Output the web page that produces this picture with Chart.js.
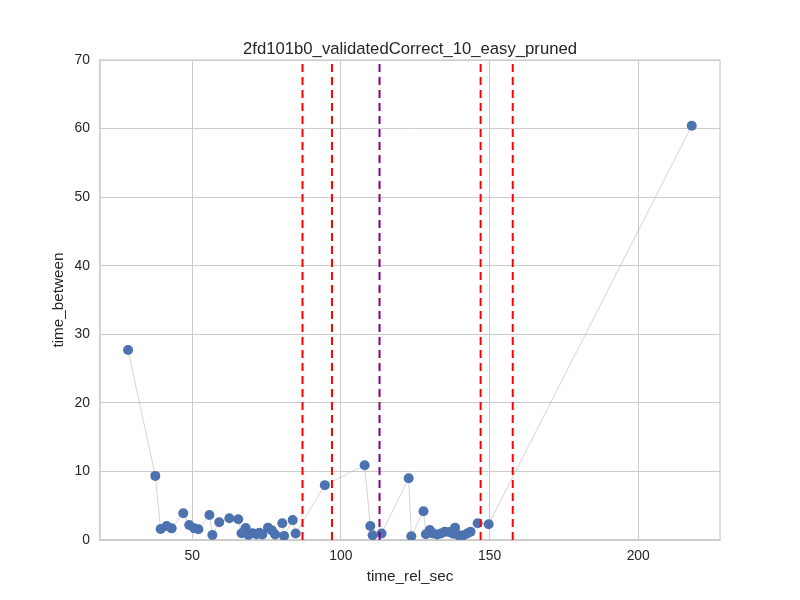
<!DOCTYPE html>
<html>
<head>
<meta charset="utf-8">
<script src="https://cdn.jsdelivr.net/npm/chart.js@4"></script>
<style>
html,body{margin:0;padding:0;background:#fff;}
#wrap{width:800px;height:600px;}
</style>
</head>
<body>
<div id="wrap"><canvas id="c" width="800" height="600"></canvas></div>
<script>
const chartTitle = "2fd101b0_validatedCorrect_10_easy_pruned";
const xLabel = "time_rel_sec";
const yLabel = "time_between";

const timeRelSec = [28.45, 37.6, 39.4, 41.4, 43.1, 47.0, 49.0, 50.7, 52.1, 55.8, 56.8, 59.1, 62.5, 65.5,
  66.6, 68.0, 68.9, 70.3, 71.6, 72.6, 73.6, 75.5, 76.8, 77.9, 80.3, 80.9, 83.8, 84.8,
  94.6, 108.0, 109.9, 110.7, 113.7, 122.8, 123.7, 127.8, 128.6, 129.9, 131.0, 132.4,
  133.7, 134.9, 136.4, 137.8, 138.4, 139.6, 141.2, 142.5, 143.6, 146.0, 149.7, 218.0];
const timeBetween = [27.7, 9.35, 1.6, 2.05, 1.7, 3.9, 2.2, 1.7, 1.56, 3.65, 0.73, 2.6, 3.17, 3.02,
  0.98, 1.75, 0.75, 1.0, 0.85, 1.05, 0.8, 1.8, 1.4, 0.8, 2.45, 0.6, 2.9, 0.95,
  8.0, 10.9, 2.05, 0.7, 0.95, 9.0, 0.55, 4.2, 0.85, 1.45, 0.95, 0.8,
  0.95, 1.2, 1.15, 0.9, 1.8, 0.7, 0.7, 0.95, 1.2, 2.45, 2.3, 60.4];
const redLines = [87.1, 97.0, 147.0, 157.8];
const purpleLines = [113.0];
const xTicks = [50, 100, 150, 200];
const xMin = 19.0, xMax = 227.5;
const yMin = 0, yMax = 70, yStep = 10;

const points = timeRelSec.map((x, i) => ({x: x, y: timeBetween[i]}));

function vline(v, color) {
  return {
    data: [{x: v, y: yMin}, {x: v, y: yMax}],
    showLine: true,
    borderColor: color,
    borderWidth: 2,
    borderDash: [8, 5],
    pointRadius: 0,
    pointHoverRadius: 0,
    order: 0
  };
}

const datasets = [];
redLines.forEach(v => datasets.push(vline(v, '#ff0000')));
purpleLines.forEach(v => datasets.push(vline(v, '#800080')));
datasets.push({
  data: points,
  showLine: true,
  borderColor: 'rgba(140,140,140,0.75)',
  borderWidth: 0.5,
  pointRadius: 5,
  pointHoverRadius: 5,
  pointBackgroundColor: '#4C72B0',
  pointBorderColor: '#4C72B0',
  pointBorderWidth: 0,
  order: 1
});

const framePlugin = {
  id: 'frame',
  beforeDatasetsDraw(chart) {
    const a = chart.chartArea, ctx = chart.ctx;
    ctx.save();
    ctx.strokeStyle = '#cccccc';
    ctx.lineWidth = 1.25;
    ctx.strokeRect(a.left, a.top, a.right - a.left, a.bottom - a.top);
    ctx.restore();
  },
  afterDraw(chart) {
    const a = chart.chartArea, ctx = chart.ctx;
    ctx.save();
    ctx.fillStyle = '#262626';
    ctx.font = '16.7px "Liberation Sans", Arial, sans-serif';
    ctx.textAlign = 'center';
    ctx.textBaseline = 'alphabetic';
    ctx.fillText(chartTitle, (a.left + a.right) / 2, 54);
    ctx.restore();
  }
};

Chart.defaults.font.family = '"Liberation Sans", Arial, sans-serif';
Chart.defaults.color = '#262626';

new Chart(document.getElementById('c'), {
  type: 'scatter',
  data: {datasets: datasets},
  options: {
    responsive: false,
    animation: false,
    devicePixelRatio: 1,
    layout: {padding: {top: 60, right: 80, left: 0, bottom: 0}},
    plugins: {legend: {display: false}, tooltip: {enabled: false}, title: {display: false}},
    scales: {
      x: {
        type: 'linear',
        min: xMin, max: xMax,
        afterBuildTicks(s) { s.ticks = xTicks.map(v => ({value: v})); },
        afterFit(s) { s.height = 60; },
        grid: {color: '#cccccc', lineWidth: 1, drawTicks: false},
        border: {display: true, color: '#cccccc', width: 1.25},
        ticks: {padding: 8, font: {size: 13.9}, color: '#262626', maxRotation: 0, autoSkip: false},
        title: {display: true, text: xLabel, font: {size: 15.3}, color: '#262626', padding: {top: 0, bottom: 13.8}}
      },
      y: {
        type: 'linear',
        min: yMin, max: yMax,
        ticks: {stepSize: yStep, padding: 10, font: {size: 13.9}, color: '#262626'},
        afterFit(s) { s.width = 100; },
        grid: {color: '#cccccc', lineWidth: 1, drawTicks: false},
        border: {display: true, color: '#cccccc', width: 1.25},
        title: {display: true, text: yLabel, font: {size: 15.3}, color: '#262626', padding: {top: 49.5, bottom: 0}}
      }
    }
  },
  plugins: [framePlugin]
});
</script>
</body>
</html>
